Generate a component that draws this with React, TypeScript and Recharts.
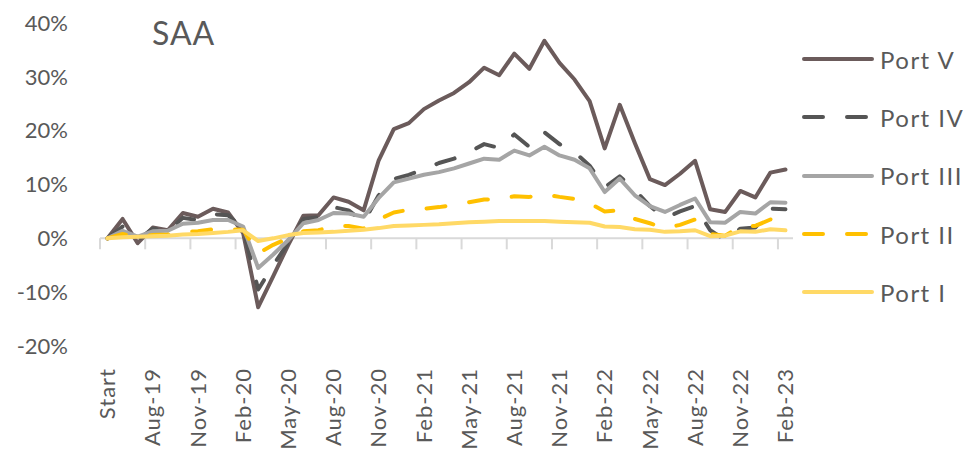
import { Legend, Line, LineChart, ReferenceLine, XAxis, YAxis } from "recharts"

const FONT = "Lato, 'Open Sans', sans-serif"
const TEXT = "#595959"
const AXIS = "#d9d9d9"

const months = [
  "Start", "Jun-19", "Jul-19", "Aug-19", "Sep-19", "Oct-19", "Nov-19", "Dec-19",
  "Jan-20", "Feb-20", "Mar-20", "Apr-20", "May-20", "Jun-20", "Jul-20", "Aug-20",
  "Sep-20", "Oct-20", "Nov-20", "Dec-20", "Jan-21", "Feb-21", "Mar-21", "Apr-21",
  "May-21", "Jun-21", "Jul-21", "Aug-21", "Sep-21", "Oct-21", "Nov-21", "Dec-21",
  "Jan-22", "Feb-22", "Mar-22", "Apr-22", "May-22", "Jun-22", "Jul-22", "Aug-22",
  "Sep-22", "Oct-22", "Nov-22", "Dec-22", "Jan-23", "Feb-23",
]

// cumulative return, %
const portV = [
  0, 3.6, -0.9, 2.0, 1.5, 4.7, 4.0, 5.5, 4.8, 1.0, -12.8, -7.0, -1.2, 4.2, 4.3, 7.6,
  6.8, 5.2, 14.5, 20.3, 21.4, 24.0, 25.6, 27.0, 29.0, 31.7, 30.3, 34.3, 31.5, 36.7, 32.6, 29.5,
  25.5, 16.7, 24.8, 17.7, 11.0, 9.9, 12.0, 14.4, 5.4, 4.9, 8.8, 7.6, 12.2, 12.8,
]
const portIV = [
  0, 2.2, -0.3, 1.8, 1.3, 3.8, 3.4, 4.5, 4.3, 1.8, -9.5, -5.0, -0.8, 3.6, 3.9, 5.8,
  5.2, 3.0, 8.0, 11.0, 11.8, 12.8, 14.0, 14.8, 16.0, 17.5, 16.8, 19.3, 17.0, 19.7, 17.5, 16.0,
  13.5, 9.5, 11.5, 9.0, 6.0, 3.8, 5.0, 6.0, 1.5, -0.3, 1.8, 2.0, 5.5, 5.4,
]
const portIII = [
  0, 1.4, 0.3, 1.3, 1.4, 2.7, 2.9, 3.4, 3.4, 2.2, -5.5, -3.0, -0.3, 2.8, 3.4, 4.7,
  4.6, 4.0, 7.5, 10.4, 11.1, 11.8, 12.3, 13.0, 13.9, 14.8, 14.6, 16.3, 15.4, 17.0, 15.4, 14.6,
  13.0, 8.6, 11.1, 8.0, 6.0, 4.9, 6.2, 7.4, 3.0, 2.9, 4.9, 4.6, 6.7, 6.6,
]
const portII = [
  0, 0.8, 0.2, 0.6, 0.7, 1.2, 1.3, 1.7, 1.7, 1.6, -2.8, -1.2, 0, 1.3, 1.5, 2.3,
  2.3, 1.8, 3.5, 4.8, 5.3, 5.5, 5.8, 6.2, 6.7, 7.2, 7.3, 7.8, 7.7, 8.2, 7.7, 7.3,
  6.5, 5.0, 5.2, 3.6, 2.8, 1.9, 2.5, 3.5, 0.8, 0.5, 2.2, 2.3, 3.5, 3.0,
]
const portI = [
  0, 0.2, 0.3, 0.4, 0.5, 0.7, 0.8, 1.0, 1.2, 1.5, -0.5, 0, 0.6, 1.0, 1.1, 1.2,
  1.4, 1.6, 1.9, 2.3, 2.4, 2.5, 2.6, 2.8, 3.0, 3.1, 3.2, 3.2, 3.2, 3.2, 3.1, 3.0,
  2.9, 2.2, 2.1, 1.7, 1.6, 1.2, 1.3, 1.5, 0.4, 0.5, 1.3, 1.2, 1.7, 1.5,
]

const yTicks = [-20, -10, 0, 10, 20, 30, 40]
const labelEvery = 3

const series = [
  { key: "portV", name: "Port V", color: "#6b5b5b", dash: undefined },
  { key: "portIV", name: "Port IV", color: "#555555", dash: "19 24" },
  { key: "portIII", name: "Port III", color: "#a5a5a5", dash: undefined },
  { key: "portII", name: "Port II", color: "#ffc000", dash: "19 24" },
  { key: "portI", name: "Port I", color: "#ffd966", dash: undefined },
]

const data = months.map((month, i) => ({
  month,
  portV: portV[i],
  portIV: portIV[i],
  portIII: portIII[i],
  portII: portII[i],
  portI: portI[i],
}))

function MonthTick({ x, y, payload }: any) {
  return (
    <text
      x={x}
      y={y}
      transform={`rotate(-90 ${x} ${y})`}
      textAnchor="end"
      dy="0.35em"
      fill={TEXT}
      fontSize={22}
      fontFamily={FONT}
      letterSpacing={1}
    >
      {payload.value}
    </text>
  )
}

// category axis drawn at zero, with tick marks between category groups
function ZeroAxis(props: any) {
  const { x1, x2, y1 } = props
  const band = (x2 - x1) / months.length
  const marks = months.map((_, i) => i).filter((i) => i % labelEvery === 0)
  return (
    <g>
      <line x1={x1} x2={x2} y1={y1} y2={y1} stroke={AXIS} strokeWidth={2} />
      {marks.map((i) => (
        <line
          key={i}
          x1={x1 + i * band}
          x2={x1 + i * band}
          y1={y1}
          y2={y1 + 11}
          stroke={AXIS}
          strokeWidth={2}
        />
      ))}
    </g>
  )
}

function SeriesLegend({ payload }: any) {
  const keys = (payload || []).map((entry: any) => entry.dataKey)
  const items = series.filter((s) => keys.includes(s.key))
  return (
    <div style={{ fontFamily: FONT }}>
      {items.map((s) => (
        <div key={s.key} style={{ display: "flex", alignItems: "center", height: 58.3 }}>
          <svg width={76} height={10}>
            <line
              x1={4}
              x2={72}
              y1={5}
              y2={5}
              stroke={s.color}
              strokeWidth={4}
              strokeLinecap="round"
              strokeDasharray={s.dash}
            />
          </svg>
          <span style={{ marginLeft: 4, fontSize: 24, color: TEXT, letterSpacing: 1.5 }}>
            {s.name}
          </span>
        </div>
      ))}
    </div>
  )
}

export default function App() {
  return (
    <div style={{ position: "absolute", left: 0, top: 0, width: 968, height: 454, background: "#fff" }}>
      <div
        style={{
          position: "absolute",
          left: 152,
          top: 17,
          fontFamily: FONT,
          fontSize: 32,
          lineHeight: "32px",
          color: TEXT,
          letterSpacing: 1,
        }}
      >
        SAA
      </div>
      <LineChart
        width={968}
        height={454}
        data={data}
        margin={{ top: 23, right: 175, bottom: 8, left: 30 }}
      >
        <XAxis
          dataKey="month"
          scale="band"
          interval={labelEvery - 1}
          axisLine={false}
          tickLine={false}
          height={100}
          tickMargin={16}
          tick={<MonthTick />}
        />
        <YAxis
          domain={[-20, 40]}
          ticks={yTicks}
          tickFormatter={(v) => `${v}%`}
          axisLine={false}
          tickLine={false}
          width={70}
          tickMargin={26}
          tick={{ fill: TEXT, fontSize: 22, fontFamily: FONT }}
        />
        <ReferenceLine y={0} shape={<ZeroAxis />} />
        <Legend
          layout="vertical"
          align="center"
          verticalAlign="middle"
          wrapperStyle={{ left: 800, top: 30, width: 168 }}
          content={<SeriesLegend />}
        />
        {series.map((s) => (
          <Line
            key={s.key}
            type="linear"
            dataKey={s.key}
            name={s.name}
            stroke={s.color}
            strokeWidth={4}
            strokeDasharray={s.dash}
            strokeLinecap="round"
            strokeLinejoin="round"
            dot={false}
            activeDot={false}
            isAnimationActive={false}
          />
        ))}
      </LineChart>
    </div>
  )
}
